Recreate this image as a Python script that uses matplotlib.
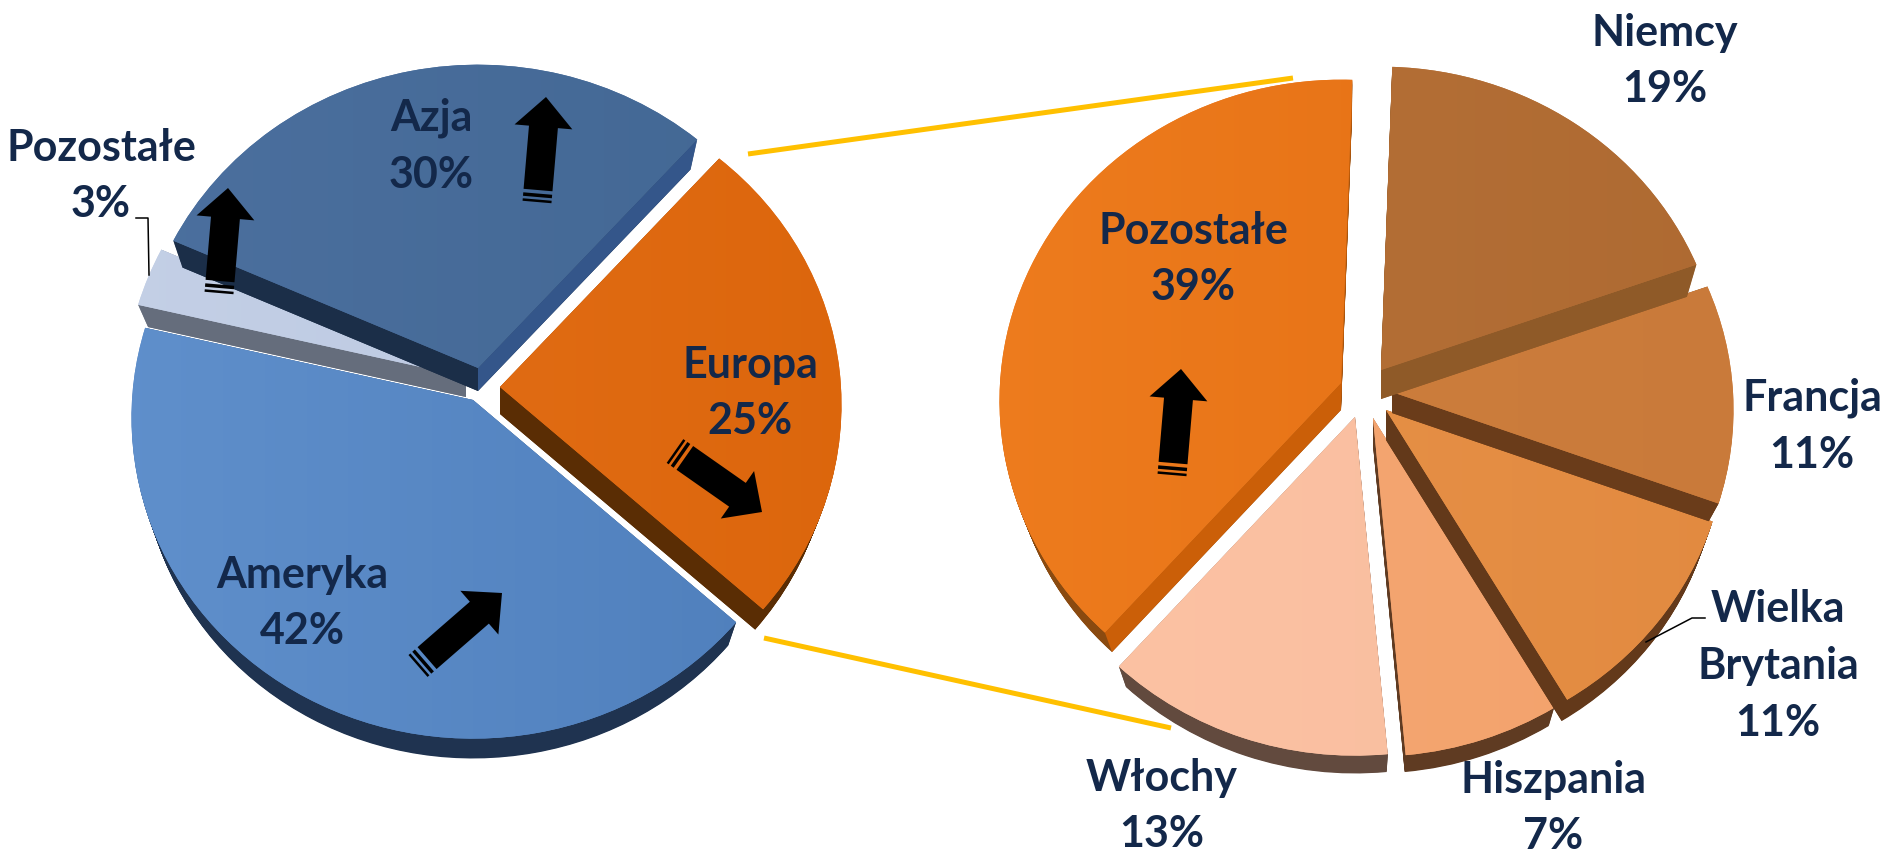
import numpy as np
import matplotlib
matplotlib.use("Agg")
import matplotlib.pyplot as plt
from matplotlib.colors import to_rgb
from matplotlib.patches import Polygon
from matplotlib.transforms import Affine2D, Transform

W, H = 1892, 858
plt.rcParams['font.family'] = ['Lato', 'DejaVu Sans']

# ---- data
left_names = ['Europa', 'Ameryka', 'Pozostałe', 'Azja']
left_values = [25, 42, 3, 30]
right_names = ['Niemcy', 'Francja', 'Wielka Brytania', 'Hiszpania', 'Włochy', 'Pozostałe']
right_values = [19, 11, 11, 7, 13, 39]

# ---- styles (one entry per slice)
left_apex = [(500, 387), (473, 400), (466, 377), (478, 368)]
left_depth = [27, 30, 20, 23]
left_order = [1, 2, 3, 0]
left_grad = [('#E4701A', '#DC660C'), ('#6090CC', '#4E7EBB'), ('#C4D0E6', '#B9C6E0'), ('#4C709F', '#426793')]
left_rim = ['#5A2D04', '#1F3350', '#656D7C', '#1B2E48']
left_band1 = ['#5A2D04', '#1F3350', '#656D7C', '#34568A']
left_band2 = ['#5A2D04', '#1F3350', '#656D7C', '#1B2E48']

right_apex = [(1381, 370), (1392, 392), (1386, 410), (1373, 418), (1355, 417), (1341, 383)]
right_depth = [29, 21, 30, 27, 28, 27]
right_order = [3, 4, 2, 1, 0, 5]
right_grad = [('#B87238', '#AE6A32'), ('#CF803E', '#C97A3A'), ('#E8934A', '#E28A40'),
              ('#F6A873', '#F2A26C'), ('#FDC3A4', '#F7BC9E'), ('#EE7C1E', '#E36E12')]
right_rim = ['#8F5A28', '#6A3C1A', '#63391A', '#5F3B22', '#624A3E', '#8A4A10']
right_band1 = ['#8F5A28', '#6A3C1A', '#63391A', '#5F3B22', '#624A3E', '#C95F08']
right_band2 = ['#8F5A28', '#6A3C1A', '#63391A', '#5F3B22', '#624A3E', '#CB5F08']

TXT = '#13284A'
RX, RY, K, SCALE_BOTTOM = 341, 320, 0.055, 0.97


class Persp(Transform):
    """Foreshortens the unit pie: slices nearer the viewer (y<0) come out larger."""
    input_dims = output_dims = 2
    is_separable = False

    def __init__(self, k):
        super().__init__()
        self.k = k

    def transform_non_affine(self, v):
        v = np.asarray(v, float)
        return v / (1 + self.k * v[:, 1])[:, None]


fig = plt.figure(figsize=(W / 100, H / 100), dpi=100, facecolor='white')
ov = fig.add_axes([0, 0, 1, 1])
persp = Persp(K)


def slice_tf(apex, s=1.0, d=0.0):
    return Affine2D().scale(RX * s, -RY * s).translate(apex[0], apex[1] + d)


def point(theta, apex, s=1.0, d=0.0):
    v = np.array([[np.cos(np.radians(theta)), np.sin(np.radians(theta))]])
    return slice_tf(apex, s, d).transform(persp.transform(v))[0]


def draw_pie(values, start, apexes, depths, order, grads, rims, band1, band2):
    for i in order:
        zbase = 10 * (list(order).index(i) + 1)
        for lay in range(int(depths[i]), 0, -1):
            s = 1 - (1 - SCALE_BOTTOM) * lay / depths[i]
            wedges, _ = ov.pie(values, colors=rims, startangle=start, counterclock=False, radius=1)
            for j, w in enumerate(wedges):
                if j == i:
                    w.set_transform(persp + slice_tf(apexes[i], s, lay) + ov.transData)
                    w.set_edgecolor('none')
                    w.set_clip_on(False)
                    w.set_zorder(zbase + 1)
                else:
                    w.remove()
        wedges, _ = ov.pie(values, colors=[g[0] for g in grads], startangle=start,
                           counterclock=False, radius=1)
        for j, w in enumerate(wedges):
            if j != i:
                w.remove()
                continue
            w.set_transform(persp + slice_tf(apexes[i]) + ov.transData)
            w.set_edgecolor('none')
            w.set_clip_on(False)
            w.set_zorder(zbase + 3)
            for theta, col in ((w.theta1, band1[i]), (w.theta2, band2[i])):
                d = depths[i]
                pts = [point(0, apexes[i], 0.0, 0.0), point(theta, apexes[i]),
                       point(theta, apexes[i], SCALE_BOTTOM, d), point(0, apexes[i], 0.0, d)]
                ov.add_patch(Polygon(pts, closed=True, fc=col, ec='none', zorder=zbase + 2))
            ramp = np.linspace(to_rgb(grads[i][0]), to_rgb(grads[i][1]), 64)[None, :, :]
            x0, x1 = apexes[i][0] - RX - 40, apexes[i][0] + RX + 40
            img = ov.imshow(ramp, extent=(x0, x1, apexes[i][1] + 400, apexes[i][1] - 400),
                            aspect='auto', zorder=zbase + 4, interpolation='bilinear')
            img.set_clip_path(w)


draw_pie(left_values, 48, left_apex, left_depth, left_order, left_grad, left_rim, left_band1, left_band2)
draw_pie(right_values, 88, right_apex, right_depth, right_order, right_grad, right_rim, right_band1, right_band2)

ov.set_aspect('auto')
ov.set_xlim(0, W)
ov.set_ylim(H, 0)
ov.axis('off')

# connector lines
ov.plot([748, 1293], [154, 78], color='#FFC000', lw=3.6, solid_capstyle='butt', zorder=200)
ov.plot([764, 1171], [638, 728], color='#FFC000', lw=3.6, solid_capstyle='butt', zorder=200)
# leader lines
ov.plot([136, 148, 149], [218, 218, 275], color='black', lw=1.1, zorder=200)
ov.plot([1646, 1692, 1705], [642, 618, 618], color='black', lw=1.1, zorder=200)


def arrow(x0, y0, x1, y1, width=29, head=58, headlen=30):
    p0, p1 = np.array([x0, y0], float), np.array([x1, y1], float)
    u = (p1 - p0) / np.hypot(*(p1 - p0))
    n = np.array([-u[1], u[0]])
    b = p1 - u * headlen
    a = p0 + u * 12
    pts = [a + n * width / 2, b + n * width / 2, b + n * head / 2, p1,
           b - n * head / 2, b - n * width / 2, a - n * width / 2]
    ov.add_patch(Polygon(pts, closed=True, fc='black', ec='none', zorder=205))
    for s0, s1 in ((0, 2.5), (5, 8.5)):
        c0, c1 = p0 + u * s0, p0 + u * s1
        ov.add_patch(Polygon([c0 + n * width / 2, c1 + n * width / 2, c1 - n * width / 2, c0 - n * width / 2],
                             closed=True, fc='black', ec='none', zorder=205))


arrow(537, 202, 546, 97)
arrow(219, 293, 228, 188)
arrow(1172, 475, 1181, 369)
arrow(675, 451, 762, 512)
arrow(418, 666, 502, 593)

labels = [
    ('Azja\n30%', 431, 146), ('Pozostałe\n3%', 101, 176), ('Europa\n25%', 750, 393),
    ('Ameryka\n42%', 302, 603), ('Niemcy\n19%', 1665, 61), ('Francja\n11%', 1812, 426),
    ('Wielka\nBrytania\n11%', 1778, 666), ('Hiszpania\n7%', 1553, 808), ('Włochy\n13%', 1162, 806),
    ('Pozostałe\n39%', 1193, 259),
]
for s, x, y in labels:
    ov.text(x, y, s, ha='center', va='center', fontsize=31, fontweight='bold', color=TXT,
            linespacing=1.5, zorder=210)

fig.savefig('out.png', dpi=100)
